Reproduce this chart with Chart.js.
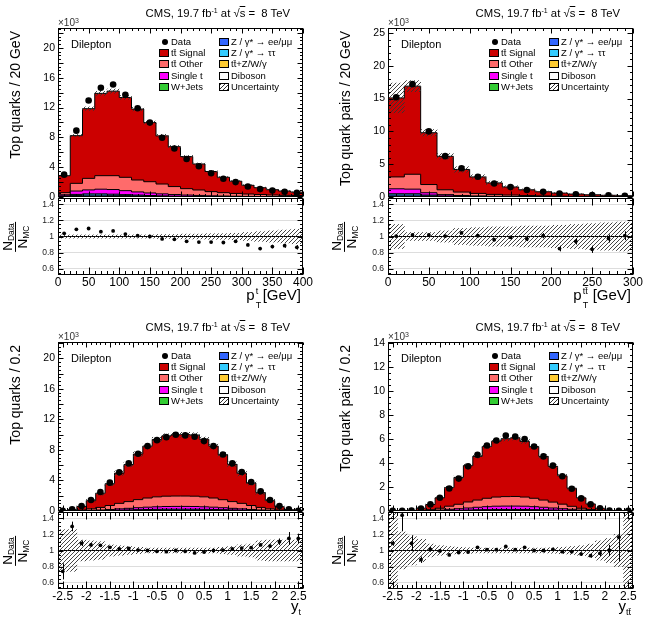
<!DOCTYPE html>
<html>
<head>
<meta charset="utf-8">
<title>CMS dilepton top quark kinematics</title>
<script src="https://cdn.jsdelivr.net/npm/chart.js@4.4.1/dist/chart.umd.min.js"></script>
<style>
  html, body { margin: 0; padding: 0; background: #fff; }
  body { position: relative; width: 646px; height: 618px; overflow: hidden;
         font-family: "Liberation Sans", Arial, Helvetica, sans-serif; color: #000; }
  canvas { position: absolute; }
  .t { position: absolute; white-space: nowrap; line-height: 1; }
  .hdr { font-size: 11.3px; width: 220px; text-align: right; line-height: 13px; }
  .hdr sup { font-size: 7px; vertical-align: 4px; line-height: 0; }
  .x10 { font-size: 10px; color: #333; }
  .x10 sup { font-size: 7px; vertical-align: 3px; line-height: 0; }
  .chan { font-size: 11px; }
  .ytitle { font-size: 14px; width: 220px; text-align: right; line-height: 16px;
            transform: rotate(-90deg); transform-origin: 0 0; }
  .frac { font-size: 13.5px; text-align: center; transform: translate(-50%, -50%) rotate(-90deg); }
  .frac sub { font-size: 8.5px; vertical-align: -2px; line-height: 0; }
  .frac .num { border-bottom: 1px solid #000; padding: 0 1px 1px; }
  .leg { font-size: 9.5px; line-height: 10px; }
  .box { position: absolute; width: 8px; height: 6px; border: 1px solid #000; }
  .dot { position: absolute; width: 6px; height: 6px; border-radius: 50%; background: #000; }
  .xt { font-size: 15px; text-align: right; width: 120px; line-height: 16px; }
  .ss { position: relative; display: inline-block; height: 10px; margin-right: 3px; }
  .ss .up { position: absolute; left: 1px; top: -7px; font-size: 9px; }
  .ss .dn { position: absolute; left: 1px; top: 7px; font-size: 9px; }
  .sb { font-size: 9px; vertical-align: -4px; line-height: 0; }
</style>
</head>
<body>
<script>
// ---- values in units of 10^3 entries per bin ----

// top quark pT
const ptTopEdges = [0, 20, 40, 60, 80, 100, 120, 140, 160, 180, 200, 220, 240, 260, 280, 300, 320, 340, 360, 380, 400];
const ptTopXTicks = [0, 50, 100, 150, 200, 250, 300, 350, 400];
const ptTopYTicks = [0, 2, 4, 6, 8, 10, 12, 14, 16, 18, 20, 22];
const ptTopData = [3.0, 8.9, 12.95, 14.65, 15.1, 13.7, 11.9, 9.98, 7.95, 6.5, 5.1, 4.13, 3.18, 2.45, 2.0, 1.41, 1.06, 0.86, 0.71, 0.56];
const ptTopSignal = [2.28, 6.4, 9.35, 11.04, 11.34, 10.71, 9.52, 7.93, 6.46, 5.35, 4.3, 3.49, 2.7, 2.07, 1.64, 1.17, 0.92, 0.71, 0.58, 0.45];
const ptTopOther = [0.28, 1.03, 1.55, 1.81, 1.86, 1.79, 1.6, 1.51, 1.32, 1.07, 0.86, 0.73, 0.56, 0.45, 0.38, 0.32, 0.26, 0.21, 0.17, 0.16];
const ptTopSingleT = [0.15, 0.45, 0.53, 0.63, 0.62, 0.53, 0.42, 0.34, 0.27, 0.21, 0.17, 0.14, 0.11, 0.09, 0.07, 0.05, 0.05, 0.04, 0.04, 0.03];
const ptTopZll = [0.09, 0.21, 0.25, 0.25, 0.23, 0.19, 0.16, 0.12, 0.09, 0.07, 0.05, 0.04, 0.03, 0.02, 0.02, 0.02, 0.01, 0.01, 0.01, 0.01];
const ptTopZtt = [0.06, 0.14, 0.17, 0.17, 0.15, 0.13, 0.1, 0.08, 0.06, 0.05, 0.04, 0.03, 0.02, 0.02, 0.01, 0.01, 0.01, 0.01, 0, 0];
const ptTopRatio = [1.04, 1.09, 1.1, 1.06, 1.07, 1.03, 1.01, 1.0, 0.97, 0.965, 0.94, 0.93, 0.93, 0.925, 0.94, 0.895, 0.85, 0.875, 0.885, 0.865];
const ptTopRatioErr = [0.01, 0.005, 0.005, 0.005, 0.005, 0.005, 0.005, 0.006, 0.007, 0.008, 0.009, 0.01, 0.011, 0.013, 0.015, 0.017, 0.02, 0.022, 0.025, 0.028];
const ptTopUnc = [0.02, 0.02, 0.02, 0.02, 0.02, 0.02, 0.02, 0.02, 0.025, 0.025, 0.03, 0.03, 0.035, 0.035, 0.04, 0.05, 0.06, 0.07, 0.08, 0.09];

// ttbar pT
const ptTtEdges = [0, 20, 40, 60, 80, 100, 120, 140, 160, 180, 200, 220, 240, 260, 280, 300];
const ptTtXTicks = [0, 50, 100, 150, 200, 250, 300];
const ptTtYTicks = [0, 5, 10, 15, 20, 25];
const ptTtData = [15.2, 17.2, 10.0, 6.23, 4.39, 3.09, 2.06, 1.51, 1.07, 0.81, 0.51, 0.42, 0.29, 0.25, 0.2];
const ptTtSignal = [12.04, 13.43, 7.9, 5.1, 3.45, 2.51, 1.75, 1.23, 0.88, 0.63, 0.47, 0.35, 0.26, 0.2, 0.15];
const ptTtOther = [1.81, 2.27, 1.25, 0.74, 0.52, 0.39, 0.29, 0.22, 0.16, 0.125, 0.095, 0.07, 0.06, 0.045, 0.035];
const ptTtSingleT = [0.75, 0.7, 0.35, 0.2, 0.13, 0.09, 0.06, 0.045, 0.035, 0.025, 0.02, 0.015, 0.01, 0.01, 0.01];
const ptTtZll = [0.3, 0.3, 0.18, 0.1, 0.06, 0.04, 0.03, 0.02, 0.015, 0.01, 0.01, 0.01, 0.005, 0.005, 0.005];
const ptTtZtt = [0.2, 0.2, 0.12, 0.06, 0.04, 0.03, 0.02, 0.015, 0.01, 0.01, 0.005, 0.005, 0.005, 0, 0];
const ptTtRatio = [1.005, 1.02, 1.02, 1.005, 1.045, 1.01, 0.96, 0.99, 0.97, 1.01, 0.85, 0.94, 0.84, 0.975, 1.01];
const ptTtRatioErr = [0.008, 0.008, 0.01, 0.012, 0.015, 0.018, 0.02, 0.024, 0.028, 0.032, 0.035, 0.04, 0.045, 0.05, 0.055];
const ptTtUnc = [0.15, 0.05, 0.05, 0.07, 0.1, 0.11, 0.12, 0.12, 0.13, 0.13, 0.14, 0.15, 0.16, 0.17, 0.18];

// top quark rapidity
const yTopEdges = [-2.6, -2.4, -2.2, -2.0, -1.8, -1.6, -1.4, -1.2, -1.0, -0.8, -0.6, -0.4, -0.2, 0, 0.2, 0.4, 0.6, 0.8, 1.0, 1.2, 1.4, 1.6, 1.8, 2.0, 2.2, 2.4, 2.6];
const yXTicks = [-2.5, -2, -1.5, -1, -0.5, 0, 0.5, 1, 1.5, 2, 2.5];
const yTopYTicks = [0, 2, 4, 6, 8, 10, 12, 14, 16, 18, 20, 22];
const yTopData = [0.02, 0.22, 0.65, 1.44, 2.48, 3.71, 5.06, 6.23, 7.5, 8.5, 9.28, 9.67, 9.98, 9.9, 9.72, 9.15, 8.5, 7.4, 6.23, 5.1, 3.8, 2.57, 1.44, 0.65, 0.22, 0.03];
const yTopSignal = [0.02, 0.14, 0.47, 1.07, 1.86, 2.85, 3.96, 4.85, 5.97, 6.8, 7.52, 7.88, 8.02, 8.04, 8.01, 7.55, 6.8, 5.88, 4.88, 3.95, 2.95, 1.93, 1.08, 0.46, 0.15, 0.02];
const yTopOther = [0.01, 0.03, 0.09, 0.2, 0.34, 0.52, 0.72, 0.88, 1.06, 1.2, 1.3, 1.35, 1.36, 1.36, 1.35, 1.3, 1.2, 1.05, 0.88, 0.72, 0.52, 0.34, 0.2, 0.09, 0.03, 0.01];
const yTopSingleT = [0, 0.01, 0.02, 0.05, 0.08, 0.12, 0.17, 0.21, 0.26, 0.3, 0.33, 0.35, 0.36, 0.36, 0.35, 0.33, 0.3, 0.26, 0.21, 0.17, 0.12, 0.08, 0.05, 0.02, 0.01, 0];
const yTopZll = [0, 0, 0.01, 0.02, 0.03, 0.05, 0.07, 0.09, 0.11, 0.13, 0.14, 0.15, 0.15, 0.15, 0.15, 0.14, 0.13, 0.11, 0.09, 0.07, 0.05, 0.03, 0.02, 0.01, 0, 0];
const yTopZtt = [0, 0, 0.01, 0.01, 0.02, 0.03, 0.04, 0.05, 0.06, 0.07, 0.08, 0.09, 0.09, 0.09, 0.09, 0.08, 0.07, 0.06, 0.05, 0.04, 0.03, 0.02, 0.01, 0.01, 0, 0];
const yTopRatio = [0.74, 1.3, 1.09, 1.07, 1.065, 1.04, 1.02, 1.025, 1.005, 1.0, 0.99, 0.985, 1.0, 0.99, 0.97, 0.98, 1.0, 1.005, 1.02, 1.03, 1.035, 1.07, 1.055, 1.11, 1.15, 1.15];
const yTopRatioErr = [0.1, 0.06, 0.035, 0.02, 0.015, 0.012, 0.01, 0.01, 0.008, 0.008, 0.008, 0.008, 0.008, 0.008, 0.008, 0.008, 0.008, 0.008, 0.01, 0.01, 0.012, 0.015, 0.02, 0.04, 0.08, 0.06];
const yTopUnc = [0.26, 0.26, 0.13, 0.12, 0.11, 0.07, 0.06, 0.05, 0.04, 0.03, 0.03, 0.03, 0.03, 0.03, 0.03, 0.03, 0.03, 0.04, 0.05, 0.07, 0.08, 0.12, 0.13, 0.13, 0.13, 0.13];

// ttbar rapidity
const yTtEdges = yTopEdges;
const yTtYTicks = [0, 2, 4, 6, 8, 10, 12, 14];
const yTtData = [0.01, 0.01, 0.03, 0.2, 0.55, 1.1, 1.88, 2.7, 3.72, 4.68, 5.46, 5.87, 6.28, 6.2, 6.0, 5.37, 4.55, 3.78, 2.89, 1.85, 1.05, 0.55, 0.22, 0.03, 0.01, 0.01];
const yTtSignal = [0.01, 0.01, 0.03, 0.19, 0.43, 0.87, 1.56, 2.24, 3.03, 3.64, 4.32, 4.66, 4.82, 4.89, 4.64, 4.31, 3.64, 2.98, 2.36, 1.51, 0.87, 0.47, 0.19, 0.03, 0.01, 0.01];
const yTtOther = [0, 0, 0, 0.03, 0.07, 0.15, 0.26, 0.37, 0.5, 0.6, 0.7, 0.76, 0.79, 0.8, 0.76, 0.7, 0.6, 0.49, 0.38, 0.25, 0.15, 0.08, 0.03, 0, 0, 0];
const yTtSingleT = [0, 0, 0, 0.01, 0.03, 0.05, 0.09, 0.13, 0.17, 0.21, 0.25, 0.27, 0.28, 0.28, 0.27, 0.25, 0.21, 0.17, 0.13, 0.09, 0.05, 0.03, 0.01, 0, 0, 0];
const yTtZll = [0, 0, 0, 0, 0.01, 0.02, 0.03, 0.04, 0.05, 0.06, 0.07, 0.08, 0.08, 0.08, 0.08, 0.07, 0.06, 0.05, 0.04, 0.03, 0.02, 0.01, 0, 0, 0, 0];
const yTtZtt = [0, 0, 0, 0, 0, 0.01, 0.02, 0.02, 0.03, 0.04, 0.04, 0.05, 0.05, 0.05, 0.05, 0.04, 0.04, 0.03, 0.02, 0.02, 0.01, 0, 0, 0, 0, 0];
const yTtRatio = [1.09, 1.44, 1.09, 0.885, 1.015, 0.995, 0.945, 0.975, 0.98, 1.04, 1.01, 1.01, 1.05, 1.01, 1.04, 1.0, 1.0, 1.015, 0.985, 0.985, 0.955, 0.935, 0.965, 1.0, 1.165, null];
const yTtRatioErr = [0.03, 0.2, 0.1, 0.04, 0.03, 0.02, 0.015, 0.015, 0.012, 0.01, 0.01, 0.01, 0.01, 0.01, 0.01, 0.01, 0.01, 0.012, 0.012, 0.015, 0.02, 0.025, 0.035, 0.07, 0.3, 0];
const yTtUnc = [0.6, 0.23, 0.18, 0.14, 0.08, 0.06, 0.05, 0.04, 0.035, 0.03, 0.03, 0.03, 0.03, 0.03, 0.03, 0.03, 0.03, 0.035, 0.04, 0.05, 0.06, 0.08, 0.12, 0.15, 0.2, 0.6];

const ratioYTicks = [0.6, 0.8, 1, 1.2, 1.4];

const legendLeft = ["Data", "t\u0074\u0304 Signal", "t\u0074\u0304 Other", "Single t", "W+Jets"];
const legendRight = ["Z / \u03b3* \u2192 ee/\u03bc\u03bc", "Z / \u03b3* \u2192 \u03c4\u03c4", "t\u0074\u0304+Z/W/\u03b3", "Diboson", "Uncertainty"];

const COLORS = {
  signal: "#cc0000",
  other: "#ff6b6b",
  singleT: "#ff00ff",
  wjets: "#33cc33",
  zll: "#3366ff",
  ztt: "#33ccff",
  ttv: "#ffcc33",
  diboson: "#ffffff"
};

const FONT = '"Liberation Sans", Arial, Helvetica, sans-serif';

function makeHatch() {
  const c = document.createElement("canvas");
  c.width = 4;
  c.height = 4;
  const g = c.getContext("2d");
  g.strokeStyle = "#333";
  g.lineWidth = 0.9;
  g.beginPath();
  g.moveTo(0, 4); g.lineTo(4, 0);
  g.moveTo(-1, 1); g.lineTo(1, -1);
  g.moveTo(3, 5); g.lineTo(5, 3);
  g.stroke();
  return g.createPattern(c, "repeat");
}
const hatch = makeHatch();

// frame with inward ticks on all four sides, ROOT style
const rootFrame = {
  id: "rootFrame",
  afterDatasetsDraw(chart, args, o) {
    const { ctx, chartArea: a } = chart;
    const xs = chart.scales.x;
    const ys = chart.scales.y;
    const L = Math.round(a.left) + 0.5;
    const R = Math.round(a.right) - 0.5;
    const T = Math.round(a.top) + 0.5;
    const B = Math.round(a.bottom) - 0.5;

    const walk = (scale, majors, minor, fn) => {
      const first = Math.ceil(scale.min / minor - 1e-6);
      const last = Math.floor(scale.max / minor + 1e-6);
      for (let k = first; k <= last; k++) {
        const v = k * minor;
        const isMajor = majors.some((m) => Math.abs(m - v) < minor / 10);
        fn(Math.round(scale.getPixelForValue(v)) + 0.5, isMajor);
      }
    };

    ctx.save();
    ctx.strokeStyle = "#000";
    ctx.lineWidth = 1;
    ctx.beginPath();
    walk(xs, o.xTicks, o.xMinor, (px, major) => {
      const len = major ? o.xLen : o.xLen / 2;
      ctx.moveTo(px, B); ctx.lineTo(px, B - len);
      ctx.moveTo(px, T); ctx.lineTo(px, T + len);
    });
    walk(ys, o.yTicks, o.yMinor, (py, major) => {
      const len = major ? o.yLen : o.yLen / 2;
      ctx.moveTo(L, py); ctx.lineTo(L + len, py);
      ctx.moveTo(R, py); ctx.lineTo(R - len, py);
    });
    ctx.stroke();
    ctx.strokeRect(L, T, R - L, B - T);
    ctx.restore();
  }
};

const errorBars = {
  id: "errorBars",
  afterDatasetsDraw(chart) {
    const { ctx, chartArea: a } = chart;
    ctx.save();
    ctx.beginPath();
    ctx.rect(a.left, a.top, a.width, a.height);
    ctx.clip();
    ctx.strokeStyle = "#000";
    ctx.lineWidth = 1;
    chart.data.datasets.forEach((ds) => {
      if (!ds.errY) return;
      ctx.beginPath();
      ds.data.forEach((pt, i) => {
        if (pt.y == null || !ds.errY[i]) return;
        const px = Math.round(chart.scales.x.getPixelForValue(pt.x)) + 0.5;
        ctx.moveTo(px, chart.scales.y.getPixelForValue(pt.y - ds.errY[i]));
        ctx.lineTo(px, chart.scales.y.getPixelForValue(pt.y + ds.errY[i]));
      });
      ctx.stroke();
    });
    ctx.restore();
  }
};

function binCenters(edges) {
  return edges.slice(0, -1).map((e, i) => (e + edges[i + 1]) / 2);
}

// points for a histogram outline: value i holds from edges[i] to edges[i+1]
function stepData(edges, vals) {
  const pts = [{ x: edges[0], y: 0 }];
  vals.forEach((v, i) => pts.push({ x: edges[i], y: v }));
  pts.push({ x: edges[edges.length - 1], y: vals[vals.length - 1] });
  pts.push({ x: edges[edges.length - 1], y: 0 });
  return pts;
}

function addCanvas(left, top, w, h) {
  const c = document.createElement("canvas");
  c.width = w;
  c.height = h;
  c.style.left = left + "px";
  c.style.top = top + "px";
  document.body.appendChild(c);
  return c;
}

function addText(html, cls, left, top) {
  const d = document.createElement("div");
  d.className = "t " + cls;
  d.innerHTML = html;
  d.style.left = left + "px";
  d.style.top = top + "px";
  document.body.appendChild(d);
  return d;
}

const CANVAS_W = 323;
const PLOT_W = 245;
const MAIN_H = 169;
const RATIO_H = 77;

function buildPanel(p) {
  const cx = p.col * CANVAS_W;
  const plotX = p.col === 0 ? 58 : 65;
  const padRight = CANVAS_W - plotX - PLOT_W;
  const top = p.row === 0 ? 28 : 342;
  const xMin = p.edges[0];
  const xMax = p.edges[p.edges.length - 1];
  const mid = binCenters(p.edges);

  // ---- main stacked histogram ----
  const layers = [
    { vals: p.zll, color: COLORS.zll },
    { vals: p.ztt, color: COLORS.ztt },
    { vals: p.singleT, color: COLORS.singleT },
    { vals: p.other, color: COLORS.other },
    { vals: p.signal, color: COLORS.signal }
  ];
  let total = mid.map(() => 0);
  const mainSets = [];
  layers.forEach((layer, k) => {
    total = total.map((t, i) => t + layer.vals[i]);
    mainSets.push({
      type: "line",
      data: stepData(p.edges, total),
      stepped: "before",
      fill: "origin",
      backgroundColor: layer.color,
      borderColor: "#000",
      borderWidth: 1,
      pointRadius: 0,
      order: 10 + k
    });
  });
  mainSets.push({
    type: "bar",
    data: mid.map((x, i) => ({ x, y: [total[i] * (1 - p.unc[i]), total[i] * (1 + p.unc[i])] })),
    backgroundColor: hatch,
    borderWidth: 0,
    barPercentage: 1,
    categoryPercentage: 1,
    order: 2
  });
  mainSets.push({
    type: "line",
    data: mid.map((x, i) => ({ x, y: p.data[i] })),
    showLine: false,
    pointRadius: 3.3,
    pointBackgroundColor: "#000",
    pointBorderWidth: 0,
    order: 1
  });

  const mainCanvas = addCanvas(cx, top - 28, CANVAS_W, 28 + MAIN_H + 10);
  new Chart(mainCanvas, {
    type: "line",
    data: { datasets: mainSets },
    options: {
      responsive: false,
      animation: false,
      events: [],
      layout: { padding: { left: 0, right: padRight, top: 28, bottom: 10 } },
      plugins: {
        legend: { display: false },
        tooltip: { enabled: false },
        rootFrame: { xTicks: p.xTicks, xMinor: p.xMinor, yTicks: p.yTicks, yMinor: p.yMinor, xLen: 5, yLen: 5 }
      },
      scales: {
        x: { type: "linear", display: false, min: xMin, max: xMax, offset: false },
        y: {
          type: "linear",
          min: 0,
          max: p.yMax,
          grid: { display: false, drawTicks: false },
          border: { display: false },
          ticks: { font: { family: FONT, size: 10.5 }, color: "#000", padding: 3, callback: (v) => String(v) },
          afterBuildTicks: (s) => { s.ticks = p.yTicks.map((v) => ({ value: v })); },
          afterFit: (s) => { s.width = plotX; s.paddingTop = 0; s.paddingBottom = 0; }
        }
      }
    },
    plugins: [errorBars, rootFrame]
  });

  // ---- ratio panel ----
  const ratioSets = [
    {
      type: "bar",
      data: mid.map((x, i) => ({ x, y: [1 - p.unc[i], 1 + p.unc[i]] })),
      backgroundColor: hatch,
      borderWidth: 0,
      barPercentage: 1,
      categoryPercentage: 1,
      order: 2
    },
    {
      type: "line",
      data: mid.map((x, i) => ({ x, y: p.ratio[i] })),
      errY: p.ratioErr,
      showLine: false,
      pointRadius: 1.9,
      pointBackgroundColor: "#000",
      pointBorderWidth: 0,
      order: 1
    }
  ];
  const ratioCanvas = addCanvas(cx, top + MAIN_H + 1 - 10, CANVAS_W, 10 + RATIO_H + 24);
  new Chart(ratioCanvas, {
    type: "line",
    data: { datasets: ratioSets },
    options: {
      responsive: false,
      animation: false,
      events: [],
      layout: { padding: { left: 0, right: padRight, top: 10, bottom: 0 } },
      plugins: {
        legend: { display: false },
        tooltip: { enabled: false },
        rootFrame: { xTicks: p.xTicks, xMinor: p.xMinor, yTicks: ratioYTicks, yMinor: 0.05, xLen: 7, yLen: 5 }
      },
      scales: {
        x: {
          type: "linear",
          min: xMin,
          max: xMax,
          offset: false,
          grid: { display: false, drawTicks: false },
          border: { display: false },
          ticks: { font: { family: FONT, size: 12 }, color: "#000", padding: 0, maxRotation: 0, autoSkip: false, callback: (v) => String(v) },
          afterBuildTicks: (s) => { s.ticks = p.xTicks.map((v) => ({ value: v })); },
          afterFit: (s) => { s.height = 24; s.paddingLeft = 0; s.paddingRight = 0; }
        },
        y: {
          type: "linear",
          min: 0.52,
          max: 1.48,
          grid: {
            drawTicks: false,
            color: (c) => (c.tick && c.tick.value === 1 ? "#000" : "#dddddd")
          },
          border: { display: false },
          ticks: { font: { family: FONT, size: 8.5 }, color: "#222", padding: 4, callback: (v) => String(v) },
          afterBuildTicks: (s) => { s.ticks = ratioYTicks.map((v) => ({ value: v })); },
          afterFit: (s) => { s.width = plotX; s.paddingTop = 0; s.paddingBottom = 0; }
        }
      }
    },
    plugins: [errorBars, rootFrame]
  });

  // ---- texts ----
  const left = cx + plotX;
  const right = left + PLOT_W;
  addText('CMS, 19.7 fb<sup>-1</sup> at \u221a<span style="text-decoration:overline">s</span> =&nbsp; 8 TeV', "hdr", right - 13 - 220, top - 21);
  addText("\u00d710<sup>3</sup>", "x10", left, top - 10);
  addText("Dilepton", "chan", left + 13, top + 11);
  addText(p.yTitle, "ytitle", cx + (p.col === 0 ? 7 : 14), top + 3 + 220);

  const fr = addText('<div class="num">N<sub>Data</sub></div><div>N<sub>MC</sub></div>', "frac", cx + (p.col === 0 ? 15 : 21), top + MAIN_H + 1 + RATIO_H / 2);
  fr.style.lineHeight = "13px";

  addText(p.xTitle, "xt", right - 122, top + MAIN_H + RATIO_H + (p.row === 0 ? 13 : 10));

  // legend
  const legLeftColors = [null, COLORS.signal, COLORS.other, COLORS.singleT, COLORS.wjets];
  const legRightColors = [COLORS.zll, COLORS.ztt, COLORS.ttv, COLORS.diboson, null];
  legendLeft.forEach((label, r) => {
    const cy = top + 13.5 + r * 11.4;
    if (r === 0) {
      addText("", "dot", left + 104, cy - 3);
    } else {
      const b = addText("", "box", left + 101, cy - 4);
      b.style.background = legLeftColors[r];
    }
    addText(label, "leg", left + 113, cy - 5);
  });
  legendRight.forEach((label, r) => {
    const cy = top + 13.5 + r * 11.4;
    const b = addText("", "box", left + 161, cy - 4);
    if (legRightColors[r]) {
      b.style.background = legRightColors[r];
    } else {
      b.style.background = "repeating-linear-gradient(135deg, #333 0 1px, #fff 1px 3px)";
    }
    addText(label, "leg", left + 173, cy - 5);
  });
}

const panels = [
  {
    col: 0, row: 0, edges: ptTopEdges, data: ptTopData,
    signal: ptTopSignal, other: ptTopOther, singleT: ptTopSingleT, zll: ptTopZll, ztt: ptTopZtt,
    ratio: ptTopRatio, ratioErr: ptTopRatioErr, unc: ptTopUnc,
    yMax: 22.67, yTicks: ptTopYTicks, yMinor: 0.5, xTicks: ptTopXTicks, xMinor: 10,
    yTitle: "Top quarks / 20 GeV",
    xTitle: 'p<span class="ss" style="width:5px"><span class="up">t</span><span class="dn">T</span></span>[GeV]'
  },
  {
    col: 1, row: 0, edges: ptTtEdges, data: ptTtData,
    signal: ptTtSignal, other: ptTtOther, singleT: ptTtSingleT, zll: ptTtZll, ztt: ptTtZtt,
    ratio: ptTtRatio, ratioErr: ptTtRatioErr, unc: ptTtUnc,
    yMax: 25.76, yTicks: ptTtYTicks, yMinor: 1, xTicks: ptTtXTicks, xMinor: 10,
    yTitle: "Top quark pairs / 20 GeV",
    xTitle: 'p<span class="ss" style="width:8px"><span class="up">t\u0074\u0304</span><span class="dn">T</span></span>[GeV]'
  },
  {
    col: 0, row: 1, edges: yTopEdges, data: yTopData,
    signal: yTopSignal, other: yTopOther, singleT: yTopSingleT, zll: yTopZll, ztt: yTopZtt,
    ratio: yTopRatio, ratioErr: yTopRatioErr, unc: yTopUnc,
    yMax: 22.13, yTicks: yTopYTicks, yMinor: 0.5, xTicks: yXTicks, xMinor: 0.1,
    yTitle: "Top quarks / 0.2",
    xTitle: 'y<span class="sb">t</span>'
  },
  {
    col: 1, row: 1, edges: yTtEdges, data: yTtData,
    signal: yTtSignal, other: yTtOther, singleT: yTtSingleT, zll: yTtZll, ztt: yTtZtt,
    ratio: yTtRatio, ratioErr: yTtRatioErr, unc: yTtUnc,
    yMax: 14.08, yTicks: yTtYTicks, yMinor: 0.5, xTicks: yXTicks, xMinor: 0.1,
    yTitle: "Top quark pairs / 0.2",
    xTitle: 'y<span class="sb">t\u0074\u0304</span>'
  }
];

panels.forEach(buildPanel);
</script>
</body>
</html>
